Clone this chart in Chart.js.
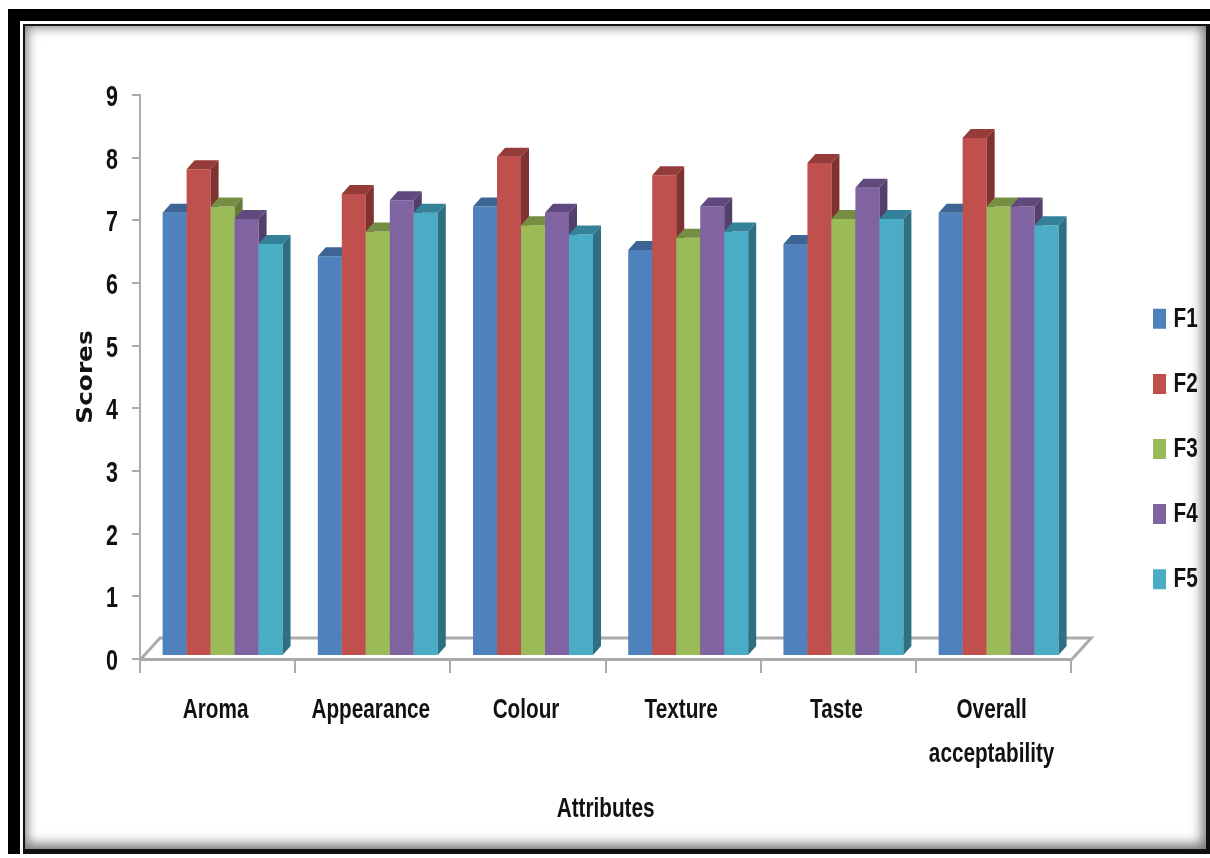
<!DOCTYPE html>
<html>
<head>
<meta charset="utf-8">
<title>Scores by attribute</title>
<script src="https://cdn.jsdelivr.net/npm/chart.js@4/dist/chart.umd.min.js"></script>
<style>
  html, body { margin: 0; padding: 0; width: 1210px; height: 858px; overflow: hidden; background: #fff; }
  .frame { position: absolute; left: 8px; top: 9px; width: 1202px; height: 845px; background: #000; }
  .panel { position: absolute; left: 12px; top: 12px; right: 0; bottom: 0; background: #fff; }
  .sheet {
    position: absolute; left: 3px; top: 3px; right: 0; bottom: 0;
    background: #fff; border-style: solid; border-color: #111; border-width: 2px 4px 5px 2px;
    box-shadow: inset -1px -2px 12px 3px #777;
  }
  canvas { position: absolute; left: 0; top: 0; }
</style>
</head>
<body>
<div class="frame"><div class="panel"><div class="sheet"></div></div></div>
<canvas id="scoresChart" width="1210" height="858"></canvas>
<script>
const categories = ['Aroma', 'Appearance', 'Colour', 'Texture', 'Taste', ['Overall', 'acceptability']];
const seriesNames = ['F1', 'F2', 'F3', 'F4', 'F5'];
const f1 = [7.1, 6.4, 7.2, 6.5, 6.6, 7.1];
const f2 = [7.8, 7.4, 8.0, 7.7, 7.9, 8.3];
const f3 = [7.2, 6.8, 6.9, 6.7, 7.0, 7.2];
const f4 = [7.0, 7.3, 7.1, 7.2, 7.5, 7.2];
const f5 = [6.6, 7.1, 6.75, 6.8, 7.0, 6.9];
const yTicks = [0, 1, 2, 3, 4, 5, 6, 7, 8, 9];

const seriesValues = [f1, f2, f3, f4, f5];
const frontColors = ['#4F81BD', '#C0504D', '#9BBB59', '#8064A2', '#4BACC6'];
const topColors = ['#3C6494', '#953B39', '#758E43', '#60497C', '#34829A'];
const sideColors = ['#335680', '#7F3230', '#657B3A', '#533F6B', '#2F6F82'];

const AXIS_GRAY = '#ababab';
const LABEL_FONT = '"Liberation Sans", sans-serif';
const DEPTH_X = 8;
const DEPTH_Y = 9;
const BAR_SHIFT = 5;
const FLOOR_X = 20;
const FLOOR_Y = 22;
const TEXT_SQUEEZE = 0.74;
const TITLE_STRETCH = 1.18;

const canvas = document.getElementById('scoresChart');
const ctx = canvas.getContext('2d');

// no condensed face is installed, so labels get squeezed sideways when painted;
// the y title goes the other way, short and wide
const plainFillText = ctx.fillText.bind(ctx);
ctx.fillText = (text, x, y) => {
  const squeeze = text === 'Scores' ? TITLE_STRETCH : TEXT_SQUEEZE;
  // key text sits closer to its swatch than the library puts it
  const nudge = seriesNames.includes(text) ? -6.5 : 0;
  ctx.save();
  ctx.translate(x + nudge, y);
  ctx.scale(squeeze, 1);
  plainFillText(text, 0, 0);
  ctx.restore();
};

function drawFaces(meta, i) {
  meta.data.forEach((bar) => {
    const x0 = bar.x - bar.width / 2;
    const x1 = bar.x + bar.width / 2;
    ctx.fillStyle = topColors[i];
    ctx.beginPath();
    ctx.moveTo(x0, bar.y);
    ctx.lineTo(x0 + DEPTH_X, bar.y - DEPTH_Y);
    ctx.lineTo(x1 + DEPTH_X, bar.y - DEPTH_Y);
    ctx.lineTo(x1, bar.y);
    ctx.closePath();
    ctx.fill();
    ctx.fillStyle = sideColors[i];
    ctx.beginPath();
    ctx.moveTo(x1, bar.y);
    ctx.lineTo(x1 + DEPTH_X, bar.y - DEPTH_Y);
    ctx.lineTo(x1 + DEPTH_X, bar.base - DEPTH_Y);
    ctx.lineTo(x1, bar.base);
    ctx.closePath();
    ctx.fill();
  });
}

// floor of the box first, then the series left to right: the library would
// paint F5 first, and each bar has to cover the side face of the one before it
const boxPlugin = {
  id: 'box',
  beforeDatasetsDraw(chart) {
    const {left, right, bottom} = chart.chartArea;
    const y = bottom + 1;
    ctx.save();
    ctx.strokeStyle = AXIS_GRAY;
    ctx.lineWidth = 3;
    ctx.beginPath();
    ctx.moveTo(left, y);
    ctx.lineTo(left + FLOOR_X, y - FLOOR_Y);
    ctx.lineTo(right + FLOOR_X, y - FLOOR_Y);
    ctx.lineTo(right, y);
    ctx.stroke();
    ctx.translate(BAR_SHIFT, 0);
    seriesNames.forEach((name, i) => {
      const meta = chart.getDatasetMeta(i);
      meta.controller.draw();
      drawFaces(meta, i);
    });
    ctx.restore();
    return false;
  },
};

// the key sits well to the right of the plot, not against it
const legendPlugin = {
  id: 'legendSpot',
  afterLayout(chart) {
    const legend = chart.legend;
    const w = legend.width;
    legend.left = 1115.9;
    legend.right = legend.left + w;
    legend.top = 239;
    legend.bottom = legend.top + 420;
  },
};

const datasets = seriesNames.map((name, i) => ({
  label: name,
  data: seriesValues[i],
  backgroundColor: frontColors[i],
  borderWidth: 0,
  barPercentage: 1,
  categoryPercentage: 0.773,
  yAxisID: 'bars',
}));

new Chart(ctx, {
  type: 'bar',
  data: {labels: categories, datasets: datasets},
  plugins: [boxPlugin, legendPlugin],
  options: {
    responsive: false,
    animation: false,
    layout: {
      autoPadding: false,
      padding: {top: 95, left: 0, right: 32, bottom: 0},
    },
    plugins: {
      tooltip: {enabled: false},
      legend: {
        position: 'right',
        labels: {
          boxWidth: 13,
          boxHeight: 20,
          padding: 37.1,
          color: '#111',
          font: {family: LABEL_FONT, size: 28, weight: 'bold'},
        },
      },
    },
    scales: {
      x: {
        afterFit(scale) { scale.height = 199; },
        border: {color: AXIS_GRAY, width: 3},
        grid: {
          offset: true,
          drawOnChartArea: false,
          color: AXIS_GRAY,
          lineWidth: 2,
          tickLength: 14,
        },
        ticks: {
          color: '#111',
          padding: 16,
          labelOffset: -2,
          maxRotation: 0,
          autoSkip: false,
          font: {family: LABEL_FONT, size: 28, weight: 'bold', lineHeight: 1.55},
        },
        title: {
          display: true,
          text: 'Attributes',
          color: '#111',
          padding: {top: 0, bottom: 32},
          font: {family: LABEL_FONT, size: 28, weight: 'bold'},
        },
      },
      y: {
        min: 0,
        max: 9,
        afterFit(scale) { scale.width = 140; },
        afterBuildTicks(scale) { scale.ticks = yTicks.map((v) => ({value: v})); },
        border: {color: AXIS_GRAY, width: 2},
        grid: {
          drawOnChartArea: false,
          color: AXIS_GRAY,
          lineWidth: 2,
          tickLength: 8,
        },
        ticks: {
          color: '#111',
          padding: 14,
          labelOffset: 3,
          font: {family: LABEL_FONT, size: 29, weight: 'bold'},
        },
        title: {
          display: true,
          text: 'Scores',
          color: '#111',
          padding: {top: 73.5, bottom: 0},
          font: {family: '"DejaVu Sans", sans-serif', size: 21, weight: 'bold'},
        },
      },
      // same values as y, but its zero sits on the floor where the bars stand
      bars: {
        display: false,
        min: -0.064,
        max: 8.99,
      },
    },
  },
});
</script>
</body>
</html>
